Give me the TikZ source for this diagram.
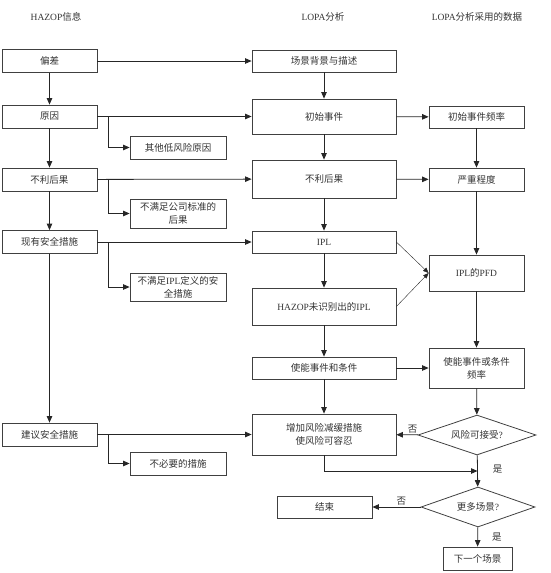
\documentclass[tikz,border=0pt]{standalone}
\usepackage{fontspec}
\setmainfont{Liberation Serif}
\newfontfamily\cjk{Noto Sans CJK SC}
\newcommand\lat[1]{{\rmfamily #1}}
\usetikzlibrary{arrows.meta,shapes.geometric,calc}

\begin{document}
\begin{tikzpicture}[
  x=1pt, y=-1pt,
  font=\cjk\fontsize{9.5pt}{13pt}\selectfont,
  box/.style={rectangle, draw=black!75, line width=0.8pt, text=black!80,
              align=center, inner sep=1pt, minimum height=23pt},
  lbox/.style={box, minimum width=95pt},
  sbox/.style={box, minimum width=96pt},
  mbox/.style={box, minimum width=144pt},
  rbox/.style={box, minimum width=95pt},
  dec/.style={diamond, draw=black!75, line width=0.8pt, text=black!80,
              aspect=3, inner sep=0pt, minimum width=118pt, minimum height=40pt},
  head/.style={text=black!80},
  lab/.style={text=black!80, inner sep=1pt},
  arr/.style={draw=black!85, line width=0.8pt, -{Triangle[length=6.5pt,width=5.5pt]}},
  tarr/.style={draw=black!85, line width=0.4pt, -{Triangle[length=5.5pt,width=4.5pt]}}
]
\useasboundingbox (0,0) rectangle (551,573);

% column headers
\node[head] (h1) at (56,17)  {\lat{HAZOP}信息};
\node[head] (h2) at (323,17) {\lat{LOPA}分析};
\node[head] (h3) at (477,17) {\lat{LOPA}分析采用的数据};

% HAZOP column
\node[lbox] (pc) at (49.5,61)  {偏差};
\node[lbox] (yy) at (49.5,116.5) {原因};
\node[lbox] (bl) at (49.5,179.5) {不利后果};
\node[lbox] (xy) at (49.5,242) {现有安全措施};
\node[lbox] (jy) at (49.5,434.5) {建议安全措施};

% side boxes
\node[sbox] (qt)   at (178,147.5) {其他低风险原因};
\node[sbox, minimum height=29pt] (bmz) at (178,213.5) {不满足公司标准的\\后果};
\node[sbox, minimum height=28pt] (bipl) at (178,287) {不满足\lat{IPL}定义的安\\全措施};
\node[sbox] (bby)  at (178,463.5) {不必要的措施};

% LOPA column
\node[mbox, minimum height=22pt] (cj)  at (324,61)    {场景背景与描述};
\node[mbox, minimum height=35pt] (cs)  at (324,116.5) {初始事件};
\node[mbox, minimum height=38pt] (lbl) at (324,179)   {不利后果};
\node[mbox, minimum height=22pt] (ipl) at (324,242)   {\lat{IPL}};
\node[mbox, minimum height=37pt] (wsb) at (324,306.5) {\lat{HAZOP}未识别出的\lat{IPL}};
\node[mbox, minimum height=22pt] (sn)  at (324,368)   {使能事件和条件};
\node[mbox, minimum height=41pt] (zj)  at (324,434.5) {增加风险减缓措施\\使风险可容忍};
\node[box, minimum width=95pt, minimum height=22pt] (js) at (324.5,507) {结束};

% data column
\node[rbox, minimum height=22pt] (pl)   at (476.5,117)   {初始事件频率};
\node[rbox] (yz)   at (476.5,179.5) {严重程度};
\node[rbox, minimum height=36pt] (pfd)  at (476.5,273)   {\lat{IPL}的\lat{PFD}};
\node[rbox, minimum height=40pt] (snpl) at (476.5,368)   {使能事件或条件\\频率};
\node[dec] (fx) at (477,435) {风险可接受\lat{?}};
\node[dec, minimum width=114pt] (gd) at (478,507) {更多场景\lat{?}};
\node[box, minimum width=69pt] (xyg) at (477.5,558.5) {下一个场景};

% HAZOP -> LOPA
\draw[arr] (pc) -- (cj);
\draw[arr] (yy) -- (cs);
\draw[arr] (bl) -- (lbl);
\draw[arr] (xy) -- (ipl);
\draw[arr] (jy) -- (zj);
\draw[arr] (pc) -- (yy);
\draw[arr] (yy) -- (bl);
\draw[arr] (bl) -- (xy);
\draw[arr] (xy) -- (jy);
\draw[arr] ([xshift=11pt]yy.east) |- (qt.west);
\draw[arr] ([xshift=11pt]bl.east) |- (bmz.west);
\draw[arr] ([xshift=11pt]xy.east) |- (bipl.west);
\draw[arr] ([xshift=11pt]jy.east) |- (bby.west);

% LOPA chain
\draw[arr] (cj) -- (cs);
\draw[arr] (cs) -- (lbl);
\draw[arr] (lbl) -- (ipl);
\draw[arr] (ipl) -- (wsb);
\draw[arr] (wsb) -- (sn);
\draw[arr] (sn) -- (zj);
\draw[arr] (cs) -- (pl);
\draw[arr] (lbl) -- (yz);
\draw[arr] (sn) -- (snpl);
\draw[tarr] (ipl.east) -- (pfd.west);
\draw[tarr] (wsb.east) -- (pfd.west);

% data chain
\draw[arr] (pl) -- (yz);
\draw[arr] (yz) -- (pfd);
\draw[arr] (pfd) -- (snpl);
\draw[arr] (snpl) -- (fx);
\coordinate (mid) at ($(fx.south)!0.5!(gd.north)$);
\draw[arr] (fx) -- node[lab, pos=0.25, above] {否} (zj);
\draw[arr] (fx) -- node[lab, pos=0.45, right, xshift=14pt] {是} (gd);
\draw[arr] (zj.south) |- (mid);
\draw[arr] (gd) -- node[lab, pos=0.4, above] {否} (js);
\draw[arr] (gd) -- node[lab, pos=0.5, right, xshift=13pt] {是} (xyg);
\end{tikzpicture}
\end{document}
